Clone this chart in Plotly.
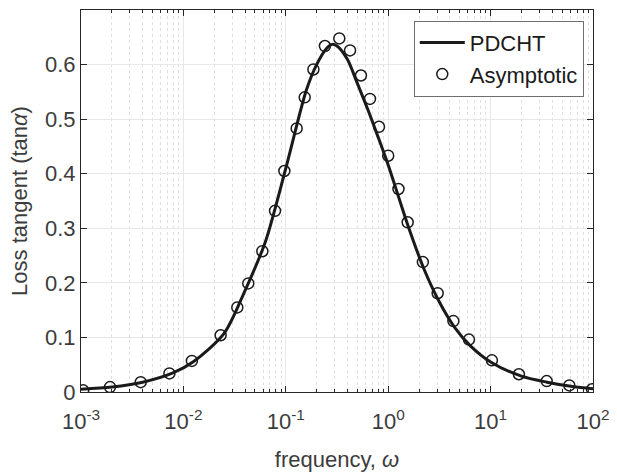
import plotly.graph_objects as go

# Asymptotic (markers)
asym_w = [0.00105, 0.00192, 0.00383, 0.0073, 0.0121, 0.0231, 0.0336, 0.043, 0.059,
          0.0785, 0.0968, 0.1277, 0.153, 0.186, 0.241, 0.333, 0.424, 0.542, 0.664,
          0.813, 1.0, 1.26, 1.55, 2.18, 3.04, 4.33, 6.15, 10.3, 18.9, 35.3, 58.7, 98.0]
asym_tan = [0.003, 0.009, 0.018, 0.034, 0.057, 0.104, 0.155, 0.199, 0.258,
            0.332, 0.405, 0.483, 0.540, 0.591, 0.634, 0.648, 0.626, 0.580, 0.537,
            0.486, 0.433, 0.372, 0.311, 0.238, 0.181, 0.130, 0.096, 0.058, 0.0325, 0.020, 0.012, 0.005]

# PDCHT (line)
pdcht_w = [0.001, 0.002, 0.004, 0.0079, 0.0126, 0.0251, 0.0398, 0.0631, 0.1, 0.158,
           0.2, 0.251, 0.282, 0.316, 0.398, 0.501, 0.631, 0.794, 1.0, 1.26, 1.58,
           2.24, 3.16, 4.47, 6.31, 10.0, 20.0, 35.5, 63.1, 100.0]
pdcht_tan = [0.005, 0.009, 0.018, 0.035, 0.056, 0.108, 0.185, 0.275, 0.41, 0.552,
             0.60, 0.630, 0.637, 0.634, 0.610, 0.565, 0.518, 0.468, 0.416, 0.358, 0.302,
             0.225, 0.165, 0.118, 0.085, 0.055, 0.029, 0.018, 0.010, 0.006]

xtick_vals = [1e-3, 1e-2, 1e-1, 1e0, 1e1, 1e2]
xtick_text = ["10<sup>-3</sup>", "10<sup>-2</sup>", "10<sup>-1</sup>",
              "10<sup>0</sup>", "10<sup>1</sup>", "10<sup>2</sup>"]
ytick_vals = [0, 0.1, 0.2, 0.3, 0.4, 0.5, 0.6]
ytick_text = ["0", "0.1", "0.2", "0.3", "0.4", "0.5", "0.6"]

FONT = "Liberation Sans, Arial, sans-serif"
TXT = "#3c3c3c"
FS = 22

fig = go.Figure()
fig.add_trace(go.Scatter(x=pdcht_w, y=pdcht_tan, mode="lines", name="PDCHT",
                         line=dict(color="#1a1a1a", width=3, shape="spline", smoothing=0.8)))
fig.add_trace(go.Scatter(x=asym_w, y=asym_tan, mode="markers", name="Asymptotic",
                         marker=dict(symbol="circle-open", size=11, color="#1a1a1a",
                                     line=dict(width=1.5, color="#1a1a1a"))))

fig.update_layout(
    width=617, height=473,
    margin=dict(l=81, r=24, t=10, b=81),
    paper_bgcolor="white", plot_bgcolor="white",
    font=dict(family=FONT, size=FS, color=TXT),
    showlegend=True,
    legend=dict(x=0.982, y=0.972, xanchor="right", yanchor="top",
                bgcolor="white", bordercolor="#6e6e6e", borderwidth=1,
                font=dict(family=FONT, size=FS, color="#1a1a1a"),
                itemwidth=45, tracegroupgap=0),
)
fig.update_xaxes(
    type="log", range=[-3, 2], automargin=False,
    tickmode="array", tickvals=xtick_vals, ticktext=xtick_text,
    ticks="inside", ticklen=6, tickcolor="#262626", tickwidth=1,
    ticklabelstandoff=10,
    showline=True, linecolor="#262626", linewidth=1, mirror="allticks",
    showgrid=True, gridcolor="#e8e8e8", gridwidth=1,
    minor=dict(dtick="D1", ticks="inside", ticklen=3, tickcolor="#262626",
               showgrid=True, gridcolor="#e0e0e0", griddash="dot", gridwidth=1),
    tickfont=dict(size=FS, color=TXT),
    title=dict(text="frequency, <i>ω</i>", font=dict(size=FS, color=TXT), standoff=18),
    zeroline=False,
)
fig.update_yaxes(
    range=[0, 0.7], automargin=False,
    tickmode="array", tickvals=ytick_vals, ticktext=ytick_text,
    ticks="inside", ticklen=6, tickcolor="#262626", tickwidth=1,
    ticklabelstandoff=0,
    showline=True, linecolor="#262626", linewidth=1, mirror="allticks",
    showgrid=True, gridcolor="#e8e8e8", gridwidth=1,
    tickfont=dict(size=FS, color=TXT),
    title=dict(text="Loss tangent (tan<i>α</i>)", font=dict(size=FS, color=TXT), standoff=11),
    zeroline=False,
)

fig.write_html("out.html")
